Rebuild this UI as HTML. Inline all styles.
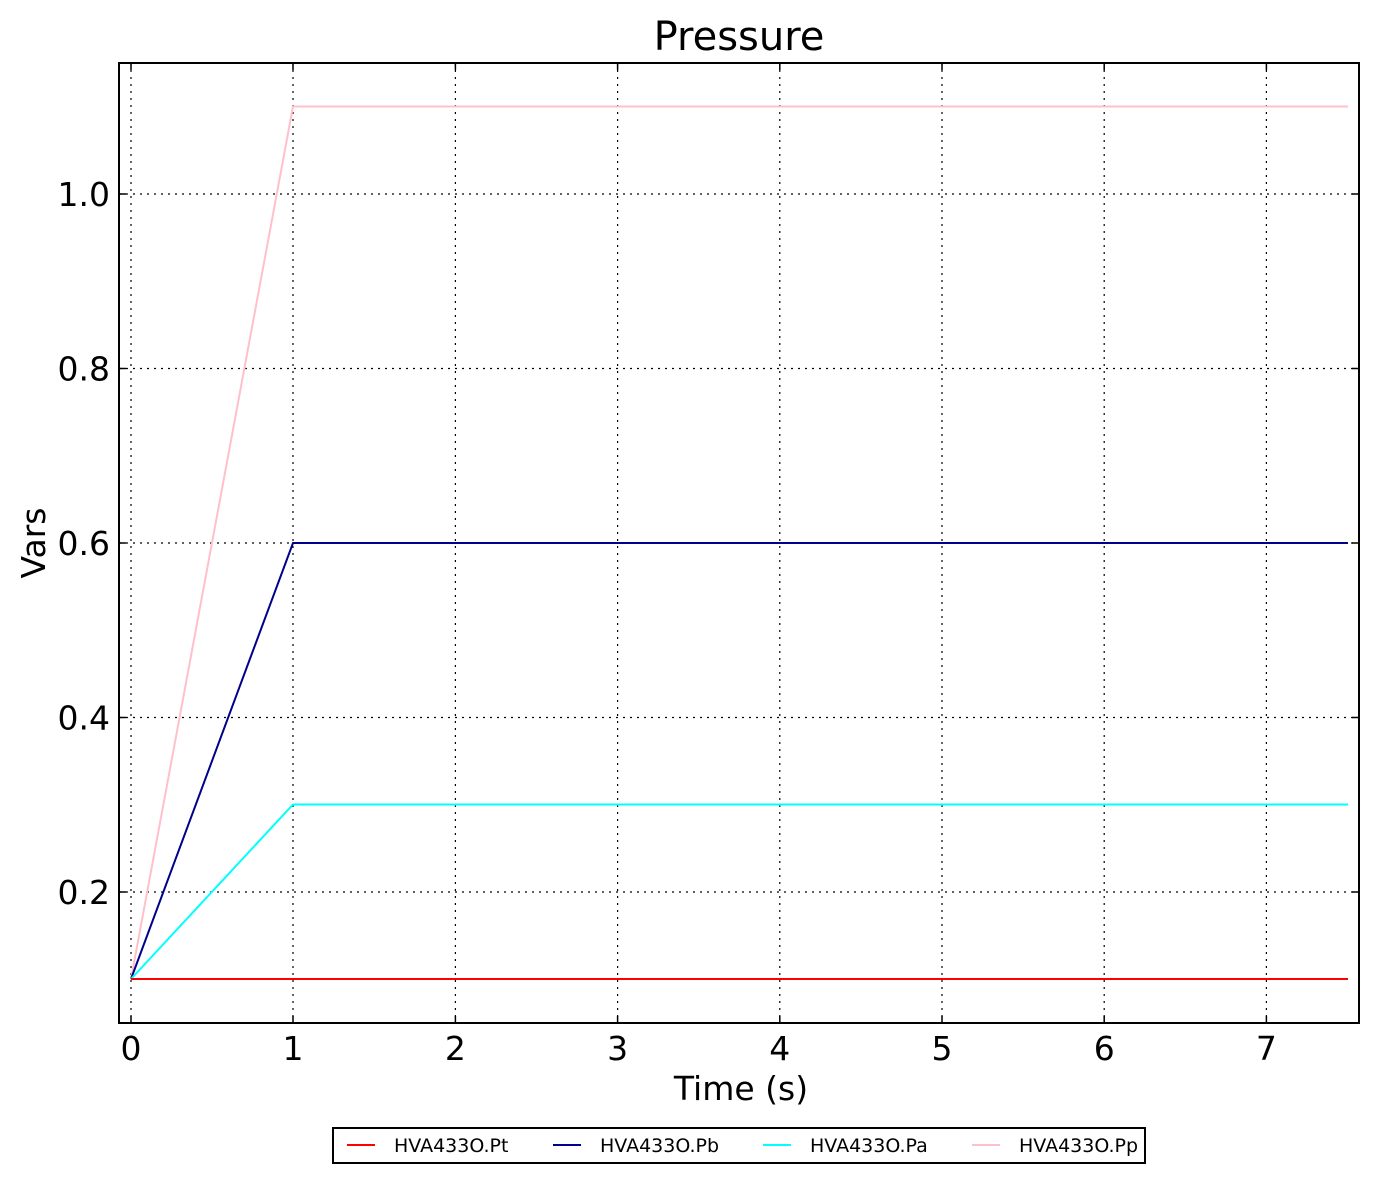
<!DOCTYPE html><html><head><style>body{margin:0;background:#fff}svg{display:block}text{font-family:"DejaVu Sans","Liberation Sans",sans-serif}</style></head><body>
<svg width="1379" height="1183" viewBox="0 0 1379 1183" xmlns="http://www.w3.org/2000/svg">
<g stroke="#000" stroke-width="1.2" stroke-dasharray="2,5">
<line x1="131" y1="63" x2="131" y2="1023"/><line x1="293" y1="63" x2="293" y2="1023"/><line x1="455.4" y1="63" x2="455.4" y2="1023"/><line x1="617.6" y1="63" x2="617.6" y2="1023"/><line x1="779.8" y1="63" x2="779.8" y2="1023"/><line x1="942" y1="63" x2="942" y2="1023"/><line x1="1104.2" y1="63" x2="1104.2" y2="1023"/><line x1="1266.4" y1="63" x2="1266.4" y2="1023"/>
<line x1="119" y1="194" x2="1359" y2="194"/><line x1="119" y1="368.5" x2="1359" y2="368.5"/><line x1="119" y1="543" x2="1359" y2="543"/><line x1="119" y1="717.5" x2="1359" y2="717.5"/><line x1="119" y1="892" x2="1359" y2="892"/>
</g>
<g stroke="#000" stroke-width="1.5">
<path d="M131 1023v-7M293 1023v-7M455.4 1023v-7M617.6 1023v-7M779.8 1023v-7M942 1023v-7M1104.2 1023v-7M1266.4 1023v-7M131 63v7M293 63v7M455.4 63v7M617.6 63v7M779.8 63v7M942 63v7M1104.2 63v7M1266.4 63v7M119 194h7M119 368.5h7M119 543h7M119 717.5h7M119 892h7M1359 194h-7M1359 368.5h-7M1359 543h-7M1359 717.5h-7M1359 892h-7"/>
</g>
<g fill="none" stroke-width="2">
<polyline stroke="#ffc0cb" points="131,979 293,106.5 1348,106.5"/>
<polyline stroke="#00008b" points="131,979 293,543 1348,543"/>
<polyline stroke="#00ffff" points="131,979 293,804.5 1348,804.5"/>
<polyline stroke="#ff0000" points="131,979 1348,979"/>
</g>
<rect x="119" y="63" width="1240" height="960" fill="none" stroke="#000" stroke-width="2"/>
<g font-size="33" text-anchor="middle">
<text x="131" y="1060">0</text><text x="293" y="1060">1</text><text x="455.4" y="1060">2</text><text x="617.6" y="1060">3</text><text x="779.8" y="1060">4</text><text x="942" y="1060">5</text><text x="1104.2" y="1060">6</text><text x="1266.4" y="1060">7</text>
</g>
<g font-size="33" text-anchor="end">
<text x="110" y="206">1.0</text><text x="110" y="380.5">0.8</text><text x="110" y="555">0.6</text><text x="110" y="729.5">0.4</text><text x="110" y="904">0.2</text>
</g>
<text x="741" y="1100" font-size="33" text-anchor="middle">Time (s)</text>
<text x="0" y="0" font-size="33" text-anchor="middle" transform="translate(45,543) rotate(-90)">Vars</text>
<text x="739" y="50" font-size="40" text-anchor="middle">Pressure</text>
<rect x="333" y="1128" width="812" height="35" fill="#fff" stroke="#000" stroke-width="2"/>
<g stroke-width="2"><line x1="347" y1="1145" x2="375" y2="1145" stroke="#ff0000"/><line x1="553" y1="1145" x2="581" y2="1145" stroke="#00008b"/><line x1="763" y1="1145" x2="791" y2="1145" stroke="#00ffff"/><line x1="972" y1="1145" x2="1000" y2="1145" stroke="#ffc0cb"/></g>
<g font-size="19"><text x="394" y="1152">HVA433O.Pt</text><text x="600" y="1152">HVA433O.Pb</text><text x="810" y="1152">HVA433O.Pa</text><text x="1019" y="1152">HVA433O.Pp</text></g>
</svg></body></html>
